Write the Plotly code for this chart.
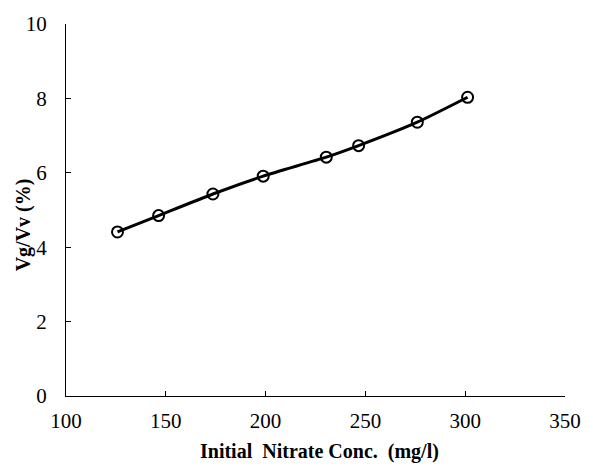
import plotly.graph_objects as go

conc = [125.8, 146.4, 173.6, 198.8, 230.4, 246.6, 276.0, 301.2]
vg_vv = [4.41, 4.85, 5.43, 5.91, 6.42, 6.73, 7.36, 8.03]

x_ticks = [100, 150, 200, 250, 300, 350]
y_ticks = [0, 2, 4, 6, 8, 10]

fig = go.Figure()
fig.add_trace(go.Scatter(
    x=conc, y=vg_vv, mode="lines+markers",
    line=dict(color="black", width=3, shape="spline", smoothing=0.6),
    marker=dict(symbol="circle-open", size=11, color="black", line=dict(width=2, color="black")),
    showlegend=False,
))

font_main = "Liberation Serif"

fig.update_layout(
    width=593, height=472,
    margin=dict(l=66, r=21, t=18, b=76),
    plot_bgcolor="white", paper_bgcolor="white",
    font=dict(family=font_main, size=20, color="black"),
    xaxis=dict(range=[100, 350], tickvals=x_ticks, showgrid=False, zeroline=False,
               showline=True, linecolor="black", linewidth=1.3,
               ticks="inside", ticklen=5, tickcolor="black", tickwidth=1.3,
               ticklabelstandoff=6,
               tickfont=dict(family=font_main, size=21, color="black")),
    yaxis=dict(range=[0, 10], tickvals=y_ticks, showgrid=False, zeroline=False,
               showline=True, linecolor="black", linewidth=1.3,
               ticks="inside", ticklen=5, tickcolor="black", tickwidth=1.3,
               ticklabelstandoff=14,
               tickfont=dict(family=font_main, size=21, color="black")),
    annotations=[
        dict(text="<b>Initial\u00a0 Nitrate Conc.\u00a0 (mg/l)</b>", xref="paper", yref="paper",
             x=(323 - 66) / (572 - 66), y=-(452 - 396) / (396 - 18), xanchor="center", yanchor="middle",
             showarrow=False, font=dict(family=font_main, size=20, color="black")),
        dict(text="<b>Vg/Vv (%)</b>", xref="paper", yref="paper", textangle=-90,
             x=-(66 - 23) / (572 - 66), y=(396 - 222) / (396 - 18), xanchor="center", yanchor="middle",
             showarrow=False, font=dict(family=font_main, size=20, color="black")),
    ],
)

fig.write_html("out.html")
